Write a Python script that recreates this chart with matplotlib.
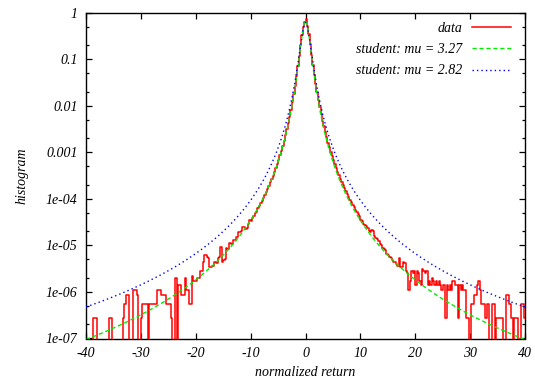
import math
import numpy as np
import matplotlib
matplotlib.use("Agg")
import matplotlib.pyplot as plt
from matplotlib.ticker import FixedLocator, NullFormatter

# ---------------- data ----------------
bin_start = -40.0
bin_width = 0.25

hist_left_tail = [  # x from -40 to -10
    0, 0, 0, 0, 0, 2.8e-7, 2.8e-7, 2.8e-7, 0, 0,
    0, 0, 0, 0, 0, 0, 0, 2.8e-7, 2.8e-7, 0,
    0, 0, 0, 0, 0, 0, 0, 2.8e-7, 5.6e-7, 8.4e-7,
    8.4e-7, 0, 0, 0, 1.12e-6, 1.12e-6, 1.12e-6, 8.4e-7, 0, 0,
    2.8e-7, 5.6e-7, 5.6e-7, 5.6e-7, 5.6e-7, 0, 5.6e-7, 5.6e-7, 5.6e-7, 5.6e-7,
    5.6e-7, 5.6e-7, 1.12e-6, 1.12e-6, 1.12e-6, 8.4e-7, 8.4e-7, 8.4e-7, 5.6e-7, 5.6e-7,
    5.6e-7, 5.6e-7, 2.8e-7, 0, 0, 1.96e-6, 0, 1.4e-6, 1.4e-6, 8.4e-7,
    8.4e-7, 8.4e-7, 1.96e-6, 1.12e-6, 1.12e-6, 5.6e-7, 5.6e-7, 2.24e-6, 1.68e-6, 1.68e-6,
    1.68e-6, 1.96e-6, 1.96e-6, 2.8e-6, 2.8e-6, 4.48e-6, 6.16e-6, 6.2e-6, 5.6e-6, 5.3e-6,
    3.36e-6, 3.4e-6, 3.6e-6, 4.48e-6, 4.5e-6, 4.2e-6, 5.32e-6, 5.6e-6, 9.2e-6, 4.5e-6,
    4.8e-6, 5.0e-6, 8.7e-6, 8.4e-6, 1.1e-5, 1.15e-5, 1.08e-5, 1.28e-5, 1.3e-5, 1.5e-5,
    1.55e-5, 1.93e-5, 1.9e-5, 2.0e-5, 2.5e-5, 2.45e-5, 2.3e-5, 2.4e-5, 2.9e-5, 3.5e-5,
]
hist_center = [  # x from -10 to 10
    3.3e-5, 3.8e-5, 4.3e-5, 4.9e-5, 5.3e-5, 6.4e-5, 7.0e-5, 8.1e-5, 9.2e-5, 1.02e-4,
    1.2e-4, 1.38e-4, 1.62e-4, 1.9e-4, 2.3e-4, 2.65e-4, 3.1e-4, 3.8e-4, 4.6e-4, 5.6e-4,
    6.9e-4, 8.6e-4, 1.09e-3, 1.38e-3, 1.78e-3, 2.35e-3, 3.1e-3, 4.2e-3, 5.8e-3, 8.2e-3,
    1.18e-2, 1.75e-2, 2.7e-2, 4.3e-2, 7.0e-2, 0.118, 0.20, 0.33, 0.50, 0.63,
    0.73, 0.52, 0.35, 0.21, 0.125, 0.075, 0.047, 0.030, 0.0195, 0.0133,
    9.3e-3, 6.6e-3, 4.8e-3, 3.6e-3, 2.7e-3, 2.1e-3, 1.62e-3, 1.28e-3, 1.02e-3, 8.2e-4,
    6.7e-4, 5.5e-4, 4.6e-4, 3.8e-4, 3.2e-4, 2.7e-4, 2.3e-4, 1.95e-4, 1.68e-4, 1.45e-4,
    1.25e-4, 1.09e-4, 9.6e-5, 8.4e-5, 7.3e-5, 6.6e-5, 5.8e-5, 5.2e-5, 4.7e-5, 4.2e-5,
]
hist_right_tail = [  # x from 10 to 40
    3.47e-5, 3.3e-5, 2.94e-5, 2.8e-5, 2.58e-5, 2.41e-5, 2.02e-5, 1.96e-5, 2.13e-5, 2.02e-5,
    1.57e-5, 1.46e-5, 1.34e-5, 1.26e-5, 1.06e-5, 1.01e-5, 8.68e-6, 8.4e-6, 7.84e-6, 6.44e-6,
    6.16e-6, 5.6e-6, 5.32e-6, 4.76e-6, 4.48e-6, 4.48e-6, 3.92e-6, 3.64e-6, 5.32e-6, 3.36e-6,
    3.36e-6, 4.48e-6, 4.2e-6, 2.8e-6, 2.52e-6, 1.12e-6, 1.68e-6, 2.8e-6, 2.52e-6, 2.8e-6,
    1.4e-6, 2.8e-6, 2.52e-6, 1.68e-6, 1.4e-6, 3.08e-6, 2.8e-6, 2.52e-6, 2.8e-6, 1.4e-6,
    1.68e-6, 1.4e-6, 1.96e-6, 1.68e-6, 1.4e-6, 1.68e-6, 1.4e-6, 1.68e-6, 1.4e-6, 1.12e-6,
    1.4e-6, 1.4e-6, 2.8e-7, 1.4e-6, 1.12e-6, 1.4e-6, 1.12e-6, 1.68e-6, 1.68e-6, 1.4e-6,
    1.4e-6, 2.8e-7, 1.4e-6, 1.12e-6, 1.4e-6, 1.12e-6, 1.12e-6, 2.8e-7, 2.8e-7, 0,
    0, 5.6e-7, 5.6e-7, 8.4e-7, 8.4e-7, 1.4e-6, 1.68e-6, 1.12e-6, 5.6e-7, 5.6e-7,
    5.6e-7, 2.8e-7, 5.6e-7, 5.6e-7, 0, 0, 5.6e-7, 5.6e-7, 0, 2.8e-7,
    2.8e-7, 2.8e-7, 2.8e-7, 2.8e-7, 0, 0, 8.4e-7, 8.4e-7, 5.6e-7, 5.6e-7,
    2.8e-7, 0, 2.8e-7, 2.8e-7, 2.8e-7, 0, 0, 5.6e-7, 5.6e-7, 2.8e-7,
]

student_mu = [3.27, 2.82]
student_scale = [0.55, 0.60]
series_labels = ["data", "student: mu = 3.27", "student: mu = 2.82"]

x_ticks = [-40, -30, -20, -10, 0, 10, 20, 30, 40]
y_ticks = [1, 0.1, 0.01, 0.001, 1e-4, 1e-5, 1e-6, 1e-7]
y_tick_labels = ["1", "0.1", "0.01", "0.001", "1e-04", "1e-05", "1e-06", "1e-07"]
x_label = "normalized return"
y_label = "histogram"

# ---------------- figure ----------------
plt.rcParams["font.family"] = ["Liberation Serif", "DejaVu Serif"]
plt.rcParams["font.style"] = "italic"
plt.rcParams["font.size"] = 10

fig = plt.figure(figsize=(5.35, 3.80), dpi=100)
ax = fig.add_axes([86 / 535, 1 - 338.5 / 380, (525 - 86) / 535, (338.5 - 12.7) / 380])

hist = np.array(hist_left_tail + hist_center + hist_right_tail, dtype=float)
edges = bin_start + bin_width * np.arange(len(hist) + 1)

ax.set_yscale("log", nonpositive="clip")

ax.step(edges, np.append(hist, hist[-1]), where="post", color="#ff0000",
        lw=1.1, label=series_labels[0], zorder=3)


def student_pdf(x, mu, s):
    c = math.gamma((mu + 1) / 2) / (math.gamma(mu / 2) * math.sqrt(mu * math.pi) * s)
    return c * (1 + (x / s) ** 2 / mu) ** (-(mu + 1) / 2)


xs = np.linspace(-40, 40, 4001)
ax.plot(xs, student_pdf(xs, student_mu[0], student_scale[0]), color="#00ee00",
        lw=1.0, dashes=(3, 2), label=series_labels[1], zorder=4)
ax.plot(xs, student_pdf(xs, student_mu[1], student_scale[1]), color="#0000ff",
        lw=1.0, dashes=(1, 2.2), label=series_labels[2], zorder=4)

ax.set_xlim(-40, 40)
ax.set_ylim(1e-7, 1)

ax.xaxis.set_major_locator(FixedLocator(x_ticks))
ax.set_xticklabels([str(t) for t in x_ticks])
ax.yaxis.set_major_locator(FixedLocator(y_ticks))
ax.set_yticklabels(y_tick_labels)
minor = []
for d in range(-7, 0):
    minor += [2 * 10.0 ** d, 5 * 10.0 ** d]
ax.yaxis.set_minor_locator(FixedLocator(minor))
ax.yaxis.set_minor_formatter(NullFormatter())

ax.tick_params(which="both", direction="in", top=True, right=True, width=0.9,
               labelsize=10, colors="black")
ax.tick_params(which="major", length=4.5)
ax.tick_params(which="minor", length=2.5)
ax.tick_params(axis="x", pad=6)
ax.tick_params(axis="y", pad=6)
for sp in ax.spines.values():
    sp.set_linewidth(1.0)

ax.set_xlabel(x_label, fontsize=10, labelpad=4.5)
ax.set_ylabel(y_label, fontsize=10, labelpad=12.5)

leg = ax.legend(loc="upper right", bbox_to_anchor=(0.968, 0.972), markerfirst=False,
                frameon=False, handlelength=2.8, handletextpad=0.7,
                labelspacing=0.6, borderpad=0, borderaxespad=0, fontsize=10)

fig.savefig("out.png", dpi=100)
